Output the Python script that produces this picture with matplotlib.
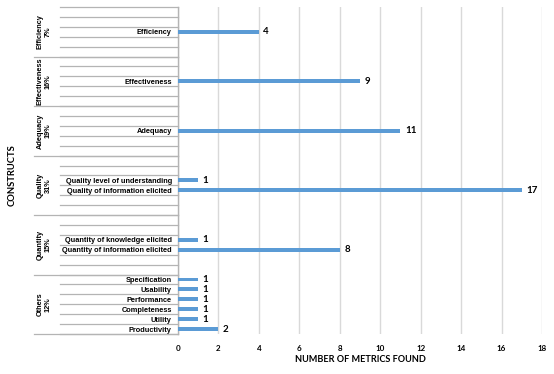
import numpy as np
import matplotlib
matplotlib.use("Agg")
import matplotlib.pyplot as plt
import matplotlib.transforms as mtransforms

# groups, top to bottom (multi-level category axis like Excel)
group_names = ["Efficiency", "Effectiveness", "Adequacy", "Quality", "Quantity", "Others"]
group_shares = ["7%", "16%", "19%", "31%", "15%", "12%"]
group_sizes = [5, 5, 5, 6, 6, 6]

# one entry per row, top to bottom; blank rows have no value
row_labels = ["", "", "Efficiency", "", "",
              "", "", "Effectiveness", "", "",
              "", "", "Adequacy", "", "",
              "", "", "Quality level of understanding", "Quality of information elicited", "", "",
              "", "", "Quantity of knowledge elicited", "Quantity of information elicited", "", "",
              "Specification", "Usability", "Performance", "Completeness", "Utility", "Productivity"]
row_values = [None, None, 4, None, None,
              None, None, 9, None, None,
              None, None, 11, None, None,
              None, None, 1, 17, None, None,
              None, None, 1, 8, None, None,
              1, 1, 1, 1, 1, 2]

x_ticks = [0, 2, 4, 6, 8, 10, 12, 14, 16, 18]

bar_color = "#5B9BD5"
sep_color = "#B4B4B4"
grid_color = "#D9D9D9"
arial = "Liberation Sans"
calibri = "Lato"

n = len(row_labels)
ypos = np.arange(n)[::-1]

fig = plt.figure(figsize=(5.54, 3.74), dpi=100)
ax = fig.add_axes([178/554, 1-334/374, 364/554, 327/374])

for y, v in zip(ypos, row_values):
    if v is None:
        continue
    ax.barh(y, v, height=0.4, color=bar_color, zorder=3)
    ax.text(v + 0.22, y, str(v), va="center", ha="left", fontsize=7,
            fontweight="bold", family=calibri, zorder=4)

ax.set_xlim(0, 18)
ax.set_ylim(-0.5, n - 0.5)
ax.set_xticks(x_ticks)
ax.set_xticklabels([str(t) for t in x_ticks], fontsize=5.8, fontweight="bold", family=calibri)
ax.grid(axis="x", color=grid_color, linewidth=1.0, zorder=0)
ax.tick_params(axis="x", length=0, pad=8)

lab_idx = [i for i, l in enumerate(row_labels) if l]
ax.set_yticks([ypos[i] for i in lab_idx])
ax.set_yticklabels([row_labels[i] for i in lab_idx], fontsize=5.35,
                   fontweight="bold", family=arial)
ax.tick_params(axis="y", length=0, pad=4.5)

for s in ["top", "right", "bottom"]:
    ax.spines[s].set_visible(False)
ax.spines["left"].set_color(sep_color)
ax.spines["left"].set_linewidth(1.0)

# category separators left of the axis
trans = mtransforms.blended_transform_factory(ax.transAxes, ax.transData)
x_inner = (60 - 178) / 364
x_outer = (34 - 178) / 364
for k in range(n + 1):
    yb = n - 0.5 - k
    ax.plot([x_inner, 0], [yb, yb], color=sep_color, lw=0.9,
            transform=trans, clip_on=False)
start = 0
for gname, gshare, gsize in zip(group_names, group_shares, group_sizes):
    end = start + gsize
    yb = n - 0.5 - end
    ax.plot([x_outer, 0], [yb, yb], color=sep_color, lw=0.9,
            transform=trans, clip_on=False)
    yc = n - 0.5 - (start + end) / 2
    ax.text((44 - 178) / 364, yc, gname + "\n" + gshare, rotation=90,
            ha="center", va="center", multialignment="center",
            fontsize=5.35, fontweight="bold", family=arial,
            transform=trans, linespacing=1.2)
    start = end

fig.text(12/554, 1-175/374, "CONSTRUCTS", rotation=90, ha="center", va="center",
         fontsize=6.8, fontweight="bold", family=calibri)
fig.text(360/554, 1-359/374, "NUMBER OF METRICS FOUND", ha="center", va="center",
         fontsize=6.6, fontweight="bold", family=calibri)

fig.savefig("out.png", dpi=100)
